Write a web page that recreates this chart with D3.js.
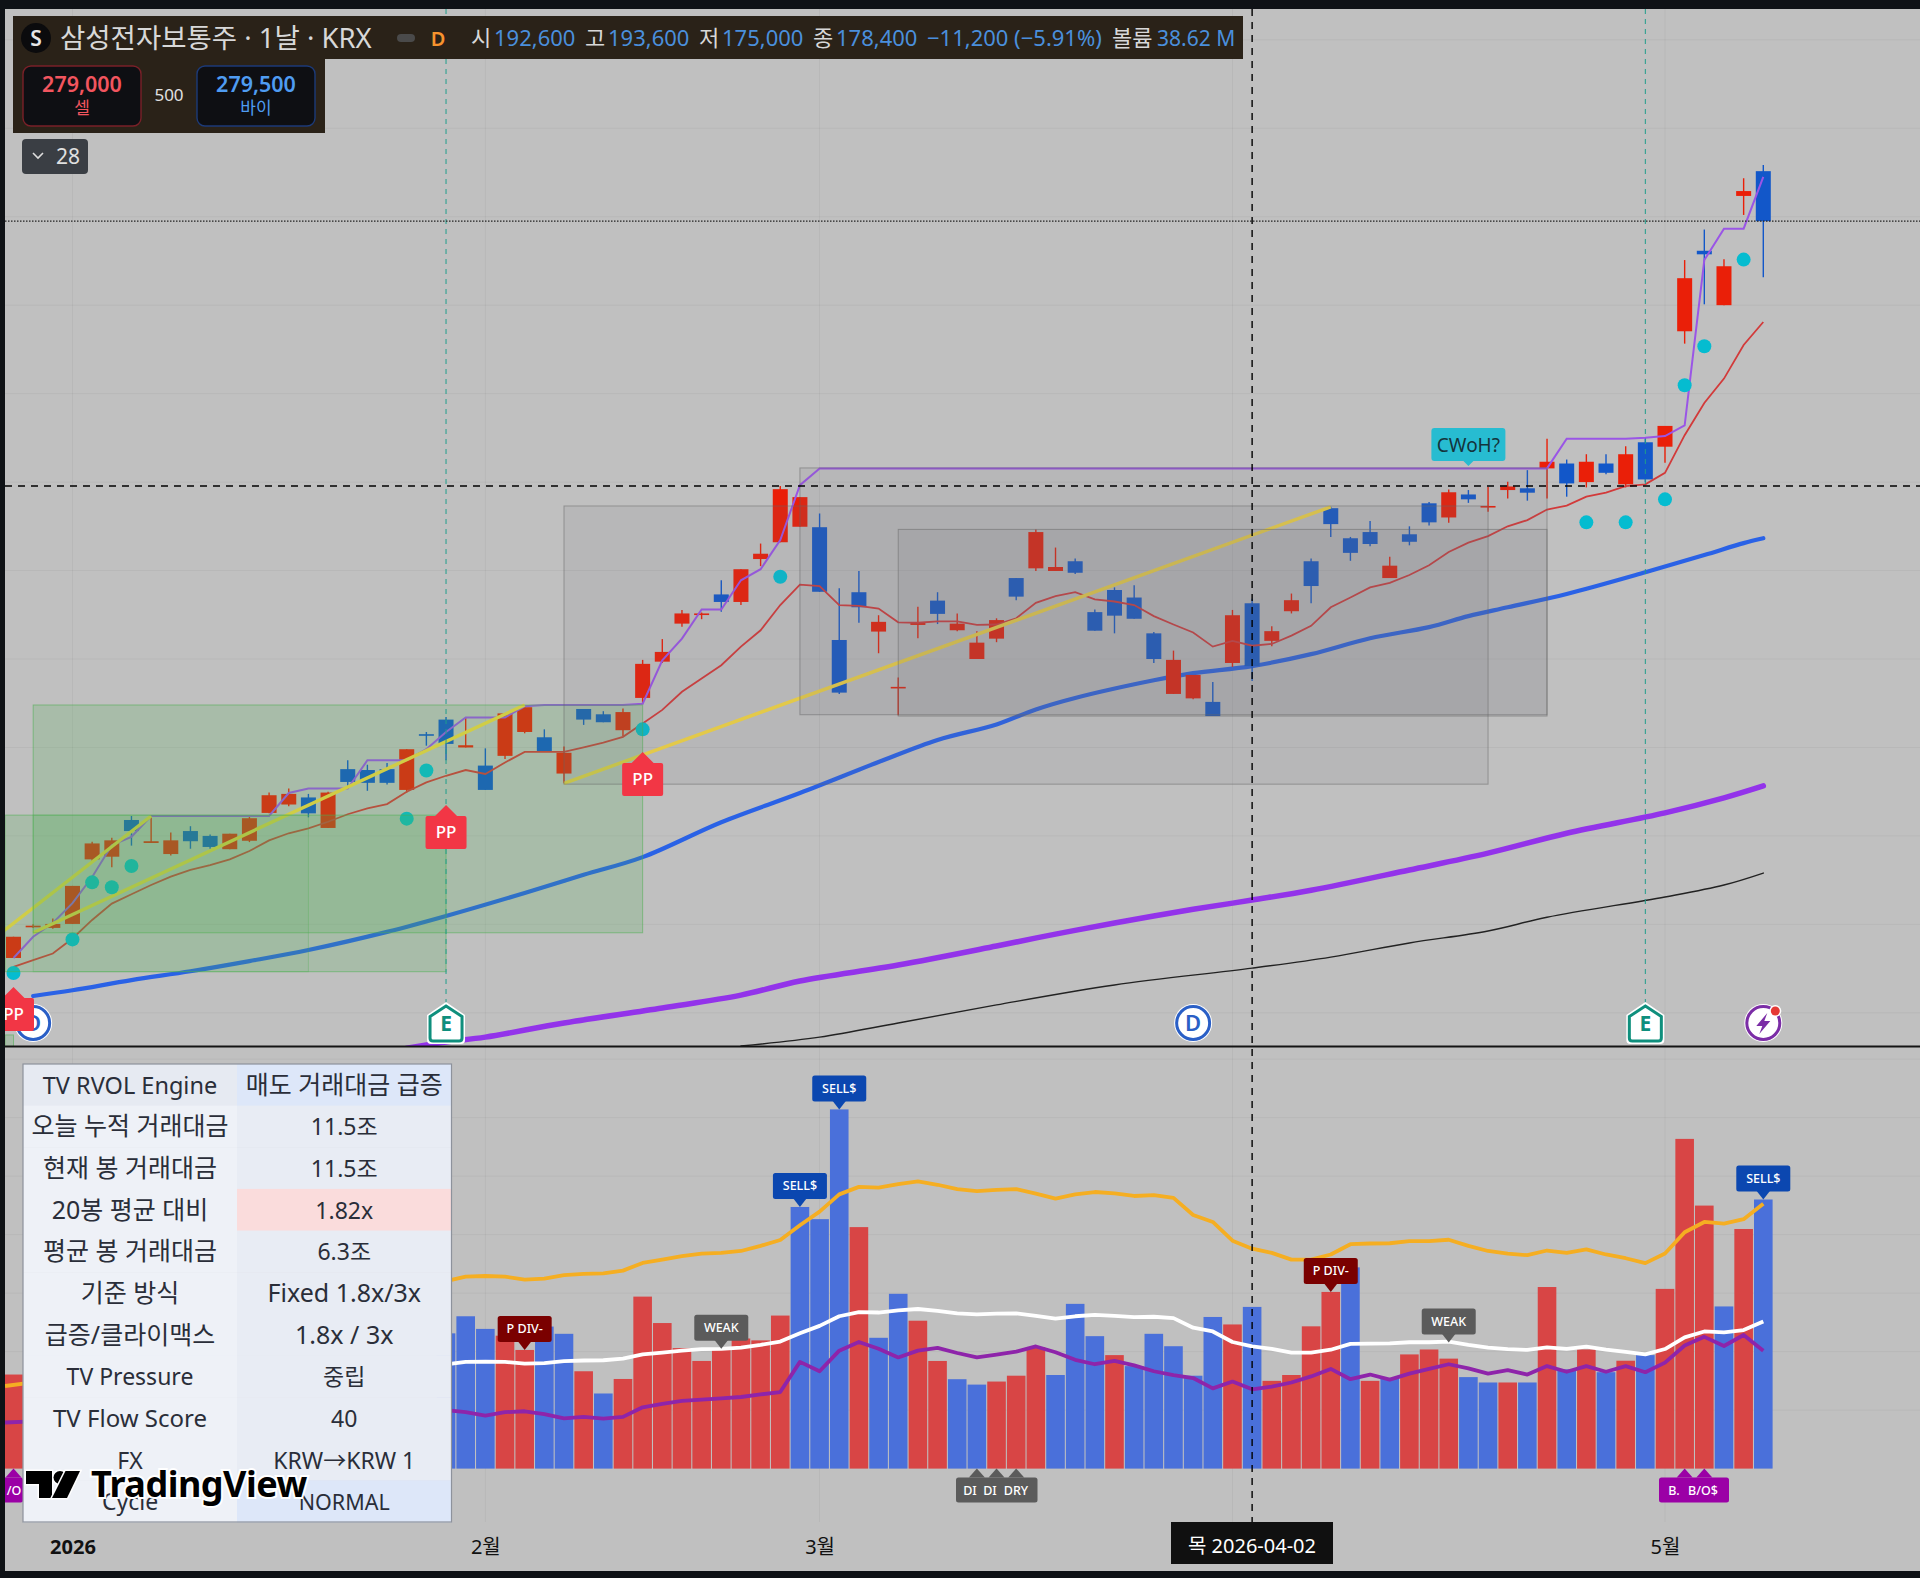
<!DOCTYPE html>
<html lang="ko"><head><meta charset="utf-8">
<script src="https://cdn.jsdelivr.net/npm/d3@7"></script>
<style>
html,body{margin:0;padding:0;background:#c0c0c0;width:1920px;height:1578px;overflow:hidden}
svg{display:block}
text{font-family:"Noto Sans","Noto Sans CJK KR",sans-serif}
</style></head><body>
<svg id="c" width="1920" height="1578"></svg>
<script>
// ---------- data (prices in thousand KRW, turnover in 조 KRW) ----------
const openPx=[112.4,119.6,119.2,120.1,134.7,135.3,143.6,138.4,135.9,141.1,
140.0,137.0,138.9,145.2,147.1,148.7,141.8,155.1,154.9,155.1,
150.4,163.0,166.3,160.0,155.9,158.1,163.5,162.3,154.1,168.7,
167.5,163.9,171.2,179.4,188.0,190.1,194.6,192.9,202.6,206.4,
209.9,209.8,184.3,195.1,186.2,173.6,187.7,193.2,186.5,180.0,
184.6,198.3,200.5,199.9,202.1,190.6,195.6,193.9,185.8,172.1,
171.1,170.3,179.1,192.6,184.1,190.8,202.1,214.1,207.3,208.7,
198.3,208.2,215.2,212.0,217.2,214.4,218.2,218.6,223.1,224.2,
220.0,224.2,219.5,229.0,228.0,254.1,272.3,260.0,284.7,290.3];
const highPx=[117.2,120.0,121.3,128.7,138.7,139.6,144.5,144.5,140.8,142.2,
140.3,140.5,144.3,149.8,150.7,149.5,150.0,157.1,156.1,156.5,
159.6,163.5,166.9,166.8,159.8,167.7,169.1,164.1,160.2,168.7,
168.2,168.8,179.8,184.5,191.1,190.5,197.8,200.3,206.1,219.1,
216.6,212.9,196.0,199.9,189.9,175.8,191.8,195.1,190.3,186.3,
189.2,198.3,209.3,205.2,202.7,191.2,196.2,196.7,186.1,181.9,
176.4,174.8,191.1,193.6,187.4,194.8,202.7,214.4,207.6,211.2,
203.1,210.0,215.5,218.3,218.2,218.9,220.1,222.7,229.8,225.1,
226.3,226.3,228.1,230.1,232.7,270.2,277.1,270.4,288.7,291.7];
const lowPx=[112.4,119.2,119.0,120.1,134.3,132.9,137.8,138.4,135.6,137.1,
137.1,137.0,138.6,145.1,146.7,144.2,141.8,151.3,150.2,151.6,
149.8,160.4,157.1,160.0,150.4,157.4,163.2,159.1,151.9,165.1,
165.7,162.6,170.0,179.1,187.3,189.0,190.7,192.2,201.0,206.4,
209.9,195.2,172.1,188.2,181.3,167.3,184.7,187.9,186.3,180.0,
183.8,193.3,199.9,199.9,199.2,186.4,185.8,189.1,179.1,172.1,
170.9,167.1,178.2,175.0,182.9,190.3,192.6,207.6,202.2,205.5,
198.3,205.7,210.2,210.8,215.3,213.3,216.3,215.8,216.3,216.7,
218.8,221.8,218.8,220.0,224.4,251.3,260.2,260.0,280.4,266.3];
const closePx=[117.2,119.7,120.1,128.7,138.3,139.0,141.1,138.8,139.0,138.8,
137.5,140.5,144.0,149.2,149.5,145.1,149.8,152.2,152.0,152.0,
159.6,162.9,160.8,160.5,150.4,167.7,169.1,159.2,158.8,166.3,
165.7,168.0,178.9,181.6,190.3,190.3,192.9,200.3,203.8,218.4,
216.6,195.2,172.4,191.7,188.4,173.7,188.2,190.2,188.0,183.7,
188.8,194.1,208.7,200.8,199.5,186.4,189.8,189.1,180.0,179.8,
176.4,167.1,189.9,178.4,186.3,193.3,196.5,210.5,204.0,206.0,
201.1,206.5,210.9,217.7,216.1,214.6,219.0,217.6,224.6,219.7,
224.6,222.1,226.3,220.6,232.7,266.1,271.5,268.8,285.8,279.0];
const redLine=[110.4,111.9,113.4,116.8,121.0,124.7,126.8,128.9,130.8,132.3,
133.4,134.7,136.6,139.0,140.6,141.7,143.2,144.9,146.2,147.2,
150.0,152.1,153.6,154.9,154.0,156.6,159.0,159.0,159.0,160.0,
161.1,162.4,165.4,168.5,172.6,175.6,178.6,182.8,186.5,192.2,
196.8,196.5,192.2,192.0,191.4,188.3,188.2,188.5,188.5,187.7,
187.8,189.2,192.7,194.2,195.1,193.5,193.0,192.2,189.7,187.8,
186.0,182.8,184.1,183.0,183.4,185.3,187.5,191.7,193.9,196.2,
197.2,199.0,201.2,204.2,206.3,207.8,210.0,211.4,213.8,214.7,
216.7,217.6,219.1,219.5,222.1,230.6,237.9,243.4,251.0,256.2];
const stepLine=[112.4,117.2,120.3,124.8,130.7,137.9,139.8,144.5,144.5,144.5,
144.5,144.5,144.5,144.5,149.7,150.7,150.7,150.7,157.1,157.1,
157.1,159.6,163.5,166.8,166.8,166.8,169.3,169.6,169.6,169.6,
169.6,169.6,169.9,179.7,184.6,191.2,191.2,197.8,200.3,206.9,
219.3,223.1,223.1,223.1,223.1,223.1,223.1,223.1,223.1,223.1,
223.1,223.1,223.1,223.1,223.1,223.1,223.1,223.1,223.1,223.1,
223.1,223.1,223.1,223.1,223.1,223.1,223.1,223.1,223.1,223.1,
223.1,223.1,223.1,223.1,223.1,223.1,223.1,223.1,223.1,229.8,
229.8,229.8,229.8,230.0,230.4,232.8,270.2,277.3,277.3,289.0];
const blueIdx=[1,3,6,9,12,15,19,22,26,29,32,36,40,44,47,50,52,54,58,60,63,66,69,72,74,76,79,83,86,88,89];
const blueMA=[103.8,105.1,107.4,109.4,111.7,114.2,118.3,121.9,127.1,131.2,135.2,143.1,149.7,156.7,161.7,165.2,168.6,171.2,175.2,176.8,178.4,181.1,184.7,187.2,189.7,191.7,194.7,199.6,203.5,206.2,207.3];
const violetIdx=[20,22,24,28,33,37,40,45,50,53,56,60,63,66,71,75,79,84,87,89];
const violetMA=[92.0,93.4,94.5,97.7,101.1,104.0,107.2,110.8,115.1,117.8,120.3,123.4,125.5,127.7,132.3,136.1,140.6,145.2,148.6,151.3];
const blackIdx=[37,41,45,50,56,63,67,71,75,78,84,87,89];
const blackMA=[92.5,94.5,97.7,101.8,106.3,110.1,112.6,115.8,118.5,121.6,126.2,128.9,131.6];
const trendLines=[[-1,116.8,7,144.5],[1,118.1,26,169.6],[28,151.9,67,214.4]];
const dotIdx=[0,3,4,5,6,20,21,32,39,80,82,84,85,86,88];
const dotPrice=[109.0,116.6,129.5,128.4,133.2,143.9,154.8,164.1,198.6,210.9,210.9,216.1,241.9,250.7,270.3];
const greenBoxes=[[1,15,144.7,109.3],[-1,22,144.7,109.3],[1,32,169.6,118.1],[-1,0,95.0,92.4]];
const grayBoxes=[[28,75,214.6,151.7],[40,78,223.2,167.4],[45,78,209.3,167.1]];
const priceGrid=[100,120,140,160,180,200,220,240,260,280,300,320];
const volGrid=[2.5,5,7.5,10,12.5,15,17.5];
const volFirstIdx=22;
const volValues=[5.78,6.51,5.97,5.68,5.07,6.07,5.76,4.16,3.21,3.83,7.35,6.22,5.15,4.60,5.12,5.56,5.48,6.54,
11.18,10.66,15.35,10.32,5.59,7.47,6.32,4.60,3.82,3.59,3.72,3.97,5.19,4.00,7.04,5.66,4.85,4.38,5.76,5.23,3.97,6.48,6.16,6.91,
3.75,4.00,6.08,7.55,8.60,3.75,3.86,4.88,5.09,4.70,3.91,3.68,3.68,3.68,7.76,4.24,5.09,4.12,4.61,4.85,7.68,14.09,11.24,6.93,10.24,11.50];
const volSides="BBBRRBBRBRRRRRRRRRBBBRBBRRBBRRRBBBRBBBBBRBRRRRBRBRRRBBRBRBRBRBRRRBRB";
const avg18x=[8.01,8.20,8.23,8.20,8.08,8.12,8.27,8.32,8.34,8.46,8.79,8.93,9.08,9.19,9.22,9.30,9.52,9.77,
10.40,10.98,11.72,12.04,12.01,12.16,12.27,12.13,11.94,11.86,11.91,11.94,11.75,11.54,11.72,11.82,11.76,11.65,11.69,11.57,10.84,10.54,9.74,9.40,
9.22,8.93,8.93,9.15,9.59,9.62,9.63,9.72,9.72,9.78,9.52,9.30,9.19,9.12,9.32,9.22,9.37,9.15,8.99,8.78,9.19,10.10,10.54,10.47,10.66,11.32];
const avg20=[4.45,4.56,4.57,4.56,4.49,4.51,4.59,4.62,4.63,4.70,4.88,4.96,5.04,5.11,5.12,5.17,5.29,5.43,
5.78,6.10,6.51,6.69,6.67,6.76,6.82,6.74,6.63,6.59,6.62,6.63,6.53,6.41,6.51,6.57,6.53,6.47,6.49,6.43,6.02,5.86,5.41,5.22,
5.12,4.96,4.96,5.08,5.33,5.34,5.35,5.40,5.40,5.43,5.29,5.17,5.11,5.07,5.18,5.12,5.21,5.08,4.99,4.88,5.11,5.61,5.86,5.82,5.92,6.29];
const pressure=[2.50,2.41,2.26,2.41,2.45,2.33,2.15,2.21,2.14,2.21,2.62,2.77,2.89,2.95,3.00,3.06,3.17,3.27,
4.56,4.16,5.04,5.41,5.12,4.75,5.04,5.16,4.94,4.75,4.87,5.00,5.22,4.97,4.65,4.46,4.60,4.41,4.16,3.99,3.87,3.43,3.72,3.39,
3.50,3.68,3.94,4.26,3.82,4.02,3.80,4.06,4.26,4.46,4.28,4.06,4.21,4.02,4.38,4.14,4.38,4.14,4.38,4.12,4.53,5.26,5.63,5.24,5.71,5.04];
const firstBar={vol:4.02,avg18x:3.53,pressure:1.97};
const tickIdx=[3,24,41,84];
const tickText=["2026","2월","3월","5월"];
const monthGrid=[3,24,41,62,84];
const tableLeft=["TV RVOL Engine","오늘 누적 거래대금","현재 봉 거래대금","20봉 평균 대비","평균 봉 거래대금","기준 방식","급증/클라이맥스","TV Pressure","TV Flow Score","FX","Cycle"];
const tableRight=["매도 거래대금 급증","11.5조","11.5조","1.82x","6.3조","Fixed 1.8x/3x","1.8x / 3x","중립","40","KRW→KRW 1","NORMAL"];
const ohlcLabels=[["시","192,600"],["고","193,600"],["저","175,000"],["종","178,400"]];

// ---------- scales ----------
const svg=d3.select("#c");
const x=d3.scaleLinear().domain([0,89]).range([13.5,1763.3]);
const y=d3.scaleLinear().domain([329,92.5]).range([0,1046]);
const vy=d3.scaleLinear().domain([0,18]).range([1468.6,1047.4]);

const defs=svg.append("defs");
defs.append("clipPath").attr("id","topClip").append("rect").attr("x",5).attr("y",9).attr("width",1915).attr("height",1037);
defs.append("clipPath").attr("id","botClip").append("rect").attr("x",5).attr("y",1047).attr("width",1915).attr("height",524);

svg.append("rect").attr("width",1920).attr("height",1578).attr("fill","#c0c0c0");

// ---------- grid ----------
const grid=svg.append("g").attr("stroke","#000").attr("stroke-opacity",.045).attr("stroke-width",1);
grid.selectAll(".h").data(priceGrid).join("line").attr("class","h").attr("x1",5).attr("x2",1920).attr("y1",d=>y(d)).attr("y2",d=>y(d));
grid.selectAll(".v").data(volGrid).join("line").attr("class","v").attr("x1",5).attr("x2",1920).attr("y1",d=>vy(d)).attr("y2",d=>vy(d));
grid.selectAll(".m").data(monthGrid).join("line").attr("class","m").attr("y1",9).attr("y2",1522).attr("x1",d=>x(d)).attr("x2",d=>x(d));

// ---------- price pane ----------
const pane=svg.append("g").attr("clip-path","url(#topClip)");
const idx=d3.range(90);
const colorUp="#ea1f08", colorDn="#1257c9";
const isUp=i=>closePx[i]>=openPx[i];

function sampled(g,xs,vs,color,w){
  g.append("path").attr("d",d3.line().x((d,k)=>x(xs[k])).y(d=>y(d)).curve(d3.curveCatmullRom)(vs))
   .attr("fill","none").attr("stroke",color).attr("stroke-width",w).attr("stroke-linecap","round");
}
sampled(pane,blackIdx,blackMA,"#222",1.4);
sampled(pane,violetIdx,violetMA,"#9333ea",5.5);
sampled(pane,blueIdx,blueMA,"#2a62e6",4.2);

pane.selectAll(".w").data(idx).join("line").attr("class","w").attr("x1",d=>x(d)).attr("x2",d=>x(d))
  .attr("y1",i=>y(highPx[i])).attr("y2",i=>y(lowPx[i]))
  .attr("stroke",i=>isUp(i)?colorUp:colorDn).attr("stroke-width",1.4);
const bw=15;
pane.selectAll(".b").data(idx).join("rect").attr("class","b").attr("x",i=>x(i)-bw/2).attr("width",bw)
  .attr("y",i=>y(Math.max(openPx[i],closePx[i])))
  .attr("height",i=>Math.max(1.6,y(Math.min(openPx[i],closePx[i]))-y(Math.max(openPx[i],closePx[i]))))
  .attr("fill",i=>isUp(i)?colorUp:colorDn);

pane.append("path").attr("d",d3.line().x((d,i)=>x(i)).y(d=>y(d))(redLine))
  .attr("fill","none").attr("stroke","#d23a3a").attr("stroke-width",1.8);
pane.append("path").attr("d",d3.line().x((d,i)=>x(i)).y(d=>y(d))(stepLine))
  .attr("fill","none").attr("stroke","#9a55e6").attr("stroke-width",2);
pane.selectAll(".t").data(trendLines).join("line").attr("class","t")
  .attr("x1",d=>x(d[0])).attr("y1",d=>y(d[1])).attr("x2",d=>x(d[2])).attr("y2",d=>y(d[3]))
  .attr("stroke","#f2d544").attr("stroke-width",3.4);
pane.selectAll(".d").data(dotIdx).join("circle").attr("class","d").attr("cx",d=>x(d)).attr("cy",(d,k)=>y(dotPrice[k])).attr("r",7).attr("fill","#05bcd0");

pane.selectAll(".gb").data(greenBoxes).join("rect").attr("class","gb")
  .attr("x",d=>d[0]<0?5:x(d[0])).attr("width",d=>x(d[1])-(d[0]<0?5:x(d[0])))
  .attr("y",d=>y(d[2])).attr("height",d=>y(d[3])-y(d[2]))
  .attr("fill","#4caf50").attr("fill-opacity",(d,k)=>k===0?.07:.2).attr("stroke","#4caf50").attr("stroke-opacity",(d,k)=>k===0?.3:.55);
pane.selectAll(".ga").data(grayBoxes).join("rect").attr("class","ga")
  .attr("x",d=>x(d[0])).attr("width",d=>x(d[1])-x(d[0]))
  .attr("y",d=>y(d[2])).attr("height",d=>y(d[3])-y(d[2]))
  .attr("fill","#6f6f74").attr("fill-opacity",.11).attr("stroke","#666").attr("stroke-opacity",.5);

// event dashed verticals
const eventIdx=[22,83];
pane.selectAll(".ev").data(eventIdx).join("line").attr("class","ev").attr("x1",d=>x(d)).attr("x2",d=>x(d)).attr("y1",9).attr("y2",1005)
  .attr("stroke","#1f9d8b").attr("stroke-width",1).attr("stroke-dasharray","5 5");
// last price dotted
pane.append("line").attr("x1",5).attr("x2",1920).attr("y1",y(279)).attr("y2",y(279)).attr("stroke","#222").attr("stroke-width",1.3).attr("stroke-dasharray","1.5 1.5");

// icons
function dIcon(i){const g=pane.append("g").attr("transform",`translate(${x(i)},1023)`);
  g.append("circle").attr("r",19).attr("fill","#fff");
  g.append("circle").attr("r",16.5).attr("fill","#fff").attr("stroke","#2a5fc6").attr("stroke-width",3);
  g.append("text").attr("y",8).attr("text-anchor","middle").attr("font-size",22).attr("font-weight",600).attr("fill","#2a5fc6").text("D");}
dIcon(1);dIcon(60);
function eIcon(i){const g=pane.append("g").attr("transform",`translate(${x(i)},1023)`);
  g.append("path").attr("d","M0 -21 L19 -8 V17 Q19 21 15 21 H-15 Q-19 21 -19 17 V-8 Z").attr("fill","#fff");
  g.append("path").attr("d","M0 -17 L16 -6.5 V15 Q16 18 13 18 H-13 Q-16 18 -16 15 V-6.5 Z").attr("fill","#fff").attr("stroke","#0f8f7d").attr("stroke-width",3);
  g.append("text").attr("y",8).attr("text-anchor","middle").attr("font-size",21).attr("font-weight",700).attr("fill","#0f8f7d").text("E");}
eIcon(22);eIcon(83);
const bolt=pane.append("g").attr("transform",`translate(${x(89)},1023)`);
bolt.append("circle").attr("r",19).attr("fill","#fff");
bolt.append("circle").attr("r",16.5).attr("fill","#fff").attr("stroke","#7b2da6").attr("stroke-width",3);
bolt.append("path").attr("d","M4 -10 L-7 3 H-1 L-4 11 L7 -2 H1 Z").attr("fill","#7b2da6");
bolt.append("circle").attr("cx",12).attr("cy",-12).attr("r",6).attr("fill","#fff");
bolt.append("circle").attr("cx",12).attr("cy",-12).attr("r",4.5).attr("fill","#e53935");

// PP flags
const ppIdx=[0,22,32], ppTip=[987,805,752];
const pp=pane.selectAll(".pp").data(ppIdx).join("g").attr("class","pp").attr("transform",(d,k)=>`translate(${x(d)},${ppTip[k]})`);
pp.append("path").attr("d","M0 0 L11 11 H18.5 a2 2 0 0 1 2 2 V42 a2 2 0 0 1 -2 2 H-18.5 a2 2 0 0 1 -2 -2 V13 a2 2 0 0 1 2 -2 H-11 Z").attr("fill","#f23645");
pp.append("text").attr("y",33).attr("text-anchor","middle").attr("font-size",17).attr("font-weight",500).attr("fill","#fff").text("PP");

// CWoH
const cw=pane.append("g").attr("transform",`translate(${x(74)},466)`);
cw.append("path").attr("d","M0 0 L-5 -5 H-34 a3 3 0 0 1 -3 -3 V-35 a3 3 0 0 1 3 -3 H34 a3 3 0 0 1 3 3 V-8 a3 3 0 0 1 -3 3 H5 Z").attr("fill","#27bcd1");
cw.append("text").attr("y",-14).attr("text-anchor","middle").attr("font-size",19).attr("fill","#14343c").text("CWoH?");

// ---------- volume pane ----------
const bot=svg.append("g").attr("clip-path","url(#botClip)");
const volBars=volValues.map((v,k)=>({i:volFirstIdx+k,v,s:volSides[k]}));
volBars.unshift({i:0,v:firstBar.vol,s:"R"});
bot.selectAll(".vb").data(volBars).join("rect").attr("class","vb").attr("x",d=>x(d.i)-9.3).attr("width",18.6)
  .attr("y",d=>vy(d.v)).attr("height",d=>vy(0)-vy(d.v))
  .attr("fill",d=>d.s==="R"?"#d84545":"#4a70da");
function volLine(vals,color,w){
  bot.append("path").attr("d",d3.line().x((d,k)=>x(volFirstIdx+k)).y(d=>vy(d)).curve(d3.curveLinear)(vals))
    .attr("fill","none").attr("stroke",color).attr("stroke-width",w).attr("stroke-linejoin","round");
}
volLine(avg18x,"#f5ae22",3.8);
volLine(avg20,"#ffffff",3.8);
volLine(pressure,"#8e24aa",3.8);
bot.append("line").attr("x1",5).attr("x2",x(1)).attr("y1",vy(firstBar.avg18x)).attr("y2",vy(firstBar.avg18x+.15)).attr("stroke","#f5ae22").attr("stroke-width",3.8);
bot.append("line").attr("x1",5).attr("x2",x(1)).attr("y1",vy(firstBar.pressure)).attr("y2",vy(firstBar.pressure+.05)).attr("stroke","#8e24aa").attr("stroke-width",3.8);

function topTag(i,v,txt,fill,w){
  const g=bot.append("g").attr("transform",`translate(${x(i)},${vy(v)})`);
  g.append("rect").attr("x",-w/2).attr("y",-34).attr("width",w).attr("height",26).attr("rx",2.5).attr("fill",fill);
  g.append("path").attr("d","M-7 -9 H7 L0 0 Z").attr("fill",fill);
  g.append("text").attr("y",-16.5).attr("text-anchor","middle").attr("font-size",12.5).attr("font-weight",500).attr("fill","#fff").text(txt);
}
topTag(26,5.07,"P DIV-","#7a0000",54);
topTag(36,5.12,"WEAK","#5b5b5b",54);
topTag(40,11.18,"SELL$","#0b47b0",54);
topTag(42,15.35,"SELL$","#0b47b0",54);
topTag(67,7.55,"P DIV-","#7a0000",54);
topTag(73,5.39,"WEAK","#5b5b5b",54);
topTag(89,11.5,"SELL$","#0b47b0",54);

function botTags(idxs,x0,x1,fill,labels){
  const g=bot.append("g");
  g.append("rect").attr("x",x0).attr("y",1477.5).attr("width",x1-x0).attr("height",25).attr("rx",2.5).attr("fill",fill);
  g.selectAll("path").data(idxs).join("path").attr("d",d=>`M${x(d)} 1468.6 l8 9 h-16 Z`).attr("fill",fill);
  g.selectAll("text").data(labels).join("text").attr("x",d=>d[0]).attr("y",1494.5).attr("text-anchor","middle")
    .attr("font-size",12.5).attr("font-weight",500).attr("fill","#fff").text(d=>d[1]);
}
botTags([49,50,51],956,1037.5,"#5b5b5b",[[970,"DI"],[990,"DI"],[1016,"DRY"]]);
botTags([85,86],1659,1729,"#9b00a6",[[1674,"B."],[1703,"B/O$"]]);
botTags([0],-20,23,"#9b00a6",[[14,"/O"]]);

// ---------- divider and x axis ----------
svg.append("line").attr("x1",5).attr("x2",1920).attr("y1",1046.5).attr("y2",1046.5).attr("stroke","#141414").attr("stroke-width",2);
const axis=d3.axisBottom(x).tickValues(tickIdx).tickFormat((d,k)=>tickText[k]).tickSize(0).tickPadding(0);
const ax=svg.append("g").attr("transform","translate(0,1538)").call(axis);
ax.select(".domain").remove();
ax.selectAll("text").attr("font-family",'"Noto Sans","Noto Sans CJK KR",sans-serif').attr("font-size",20).attr("fill","#111")
  .attr("font-weight",(d,k)=>k===0?700:400).attr("dy","0.8em").attr("y",0);

// ---------- crosshair ----------
const cross=63, crossY=486;
svg.append("line").attr("x1",x(cross)).attr("x2",x(cross)).attr("y1",9).attr("y2",1522).attr("stroke","#000").attr("stroke-width",1.4).attr("stroke-dasharray","7 6");
svg.append("line").attr("x1",5).attr("x2",1920).attr("y1",crossY).attr("y2",crossY).attr("stroke","#000").attr("stroke-width",1.4).attr("stroke-dasharray","7 6");
svg.append("rect").attr("x",1171).attr("y",1522).attr("width",162).attr("height",42).attr("fill","#101010");
svg.append("text").attr("x",1252).attr("y",1553).attr("text-anchor","middle").attr("font-size",20).attr("fill","#fff").text("목 2026-04-02");

// ---------- table ----------
const tb=svg.append("g");
const rowH=(1522-1064)/11, tx0=23,tx1=237,tx2=451.5, ty0=1064;
const rows=d3.range(11);
const leftFont=[23.5,25,25,25,25,25,25,23,24,23,23];
const rightFont=[25,23,23,23,23,25,25,23,23,23,21.5];
tb.selectAll(".l").data(rows).join("rect").attr("class","l").attr("x",tx0).attr("width",tx1-tx0).attr("y",i=>ty0+i*rowH).attr("height",rowH+.5)
  .attr("fill",i=>i===0?"#e6eaf2":"#eef1f7");
tb.selectAll(".r").data(rows).join("rect").attr("class","r").attr("x",tx1).attr("width",tx2-tx1).attr("y",i=>ty0+i*rowH).attr("height",rowH+.5)
  .attr("fill",i=>(i===0||i===10)?"#dde7f9":i===3?"#fadcdc":"#e8ecf4");
tb.append("rect").attr("x",tx0).attr("y",ty0).attr("width",tx2-tx0).attr("height",1522-ty0).attr("fill","none").attr("stroke","#8d929c").attr("stroke-width",1.2);
tb.selectAll(".tl").data(tableLeft).join("text").attr("class","tl").attr("x",(tx0+tx1)/2).attr("y",(d,i)=>ty0+i*rowH+rowH/2+9).attr("text-anchor","middle")
  .attr("font-size",(d,i)=>leftFont[i]).attr("fill","#2a2e39").text(d=>d);
tb.selectAll(".tr").data(tableRight).join("text").attr("class","tr").attr("x",(tx1+tx2)/2).attr("y",(d,i)=>ty0+i*rowH+rowH/2+9).attr("text-anchor","middle")
  .attr("font-size",(d,i)=>rightFont[i]).attr("fill","#2a2e39").text(d=>d);

// ---------- watermark ----------
const wm=svg.append("g");
wm.append("text").attr("x",91).attr("y",1497).attr("font-size",36).attr("font-weight",700).attr("fill","#000")
  .attr("stroke","#fff").attr("stroke-width",4).attr("paint-order","stroke").attr("letter-spacing",-.5).text("TradingView");
const logo=wm.append("g").attr("fill","#000").attr("stroke","#fff").attr("stroke-width",3).attr("paint-order","stroke");
logo.append("path").attr("d","M26 1471 H52 V1498 H39 V1484 H26 Z");
logo.append("circle").attr("cx",60).attr("cy",1477.5).attr("r",6.5);
logo.append("path").attr("d","M80 1471 L67 1498 H52 L65.5 1471 Z");

// ---------- frame ----------
const frame=svg.append("g").attr("fill","#0f1216");
frame.append("rect").attr("x",0).attr("y",0).attr("width",1920).attr("height",9);
frame.append("rect").attr("x",0).attr("y",0).attr("width",5).attr("height",1578);
frame.append("rect").attr("x",0).attr("y",1571).attr("width",1920).attr("height",7);

// ---------- header ----------
const hd=svg.append("g");
hd.append("rect").attr("x",13).attr("y",16).attr("width",1230).attr("height",43).attr("fill","#2a2218");
hd.append("rect").attr("x",13).attr("y",59).attr("width",312).attr("height",74).attr("fill","#2a2218");
hd.append("circle").attr("cx",36).attr("cy",38).attr("r",15).attr("fill","#0b0b0d");
hd.append("text").attr("x",36).attr("y",46).attr("text-anchor","middle").attr("font-size",21).attr("font-weight",600).attr("fill","#e6e6e6").text("S");
hd.append("text").attr("x",60).attr("y",48).attr("font-size",27.5).attr("fill","#d8d8d8").text("삼성전자보통주 · 1날 · KRX");
hd.append("rect").attr("x",397).attr("y",34).attr("width",18).attr("height",8).attr("rx",4).attr("fill","#4a4a4a");
hd.append("text").attr("x",438).attr("y",46).attr("text-anchor","middle").attr("font-size",20).attr("font-weight",600).attr("fill","#f7932e").text("D");
const ohlcX=[471,585,699,813];
ohlcLabels.forEach((d,k)=>{
  hd.append("text").attr("x",ohlcX[k]).attr("y",46).attr("font-size",22).attr("fill","#d8d8d8").text(d[0]);
  hd.append("text").attr("x",ohlcX[k]+23).attr("y",46).attr("font-size",22).attr("fill","#4a8fdc").text(d[1]);
});
hd.append("text").attr("x",927).attr("y",46).attr("font-size",22).attr("fill","#4a8fdc").text("−11,200 (−5.91%)");
hd.append("text").attr("x",1112).attr("y",46).attr("font-size",22).attr("fill","#d8d8d8").text("볼륨");
hd.append("text").attr("x",1157).attr("y",46).attr("font-size",21).attr("fill","#4a8fdc").text("38.62 M");
function chip(x0,stroke,color,a,b){
  hd.append("rect").attr("x",x0).attr("y",66).attr("width",118).attr("height",60).attr("rx",8).attr("fill","#0e0f13").attr("stroke",stroke).attr("stroke-width",1.4);
  hd.append("text").attr("x",x0+59).attr("y",92).attr("text-anchor","middle").attr("font-size",21.5).attr("font-weight",600).attr("fill",color).text(a);
  hd.append("text").attr("x",x0+59).attr("y",114).attr("text-anchor","middle").attr("font-size",17).attr("fill",color).text(b);
}
chip(23,"#7a2028","#f2555f","279,000","셀");
chip(197,"#1c3a78","#4f9cf2","279,500","바이");
hd.append("text").attr("x",169).attr("y",101).attr("text-anchor","middle").attr("font-size",17).attr("fill","#e0e0e0").text("500");
hd.append("rect").attr("x",22).attr("y",139).attr("width",66).attr("height",35).attr("rx",4).attr("fill","#3a3e44");
hd.append("path").attr("d","M33 153 l5 5 l5 -5").attr("fill","none").attr("stroke","#ddd").attr("stroke-width",1.6);
hd.append("text").attr("x",56).attr("y",164).attr("font-size",21).attr("fill","#e0e0e0").text("28");
</script>
</body></html>
